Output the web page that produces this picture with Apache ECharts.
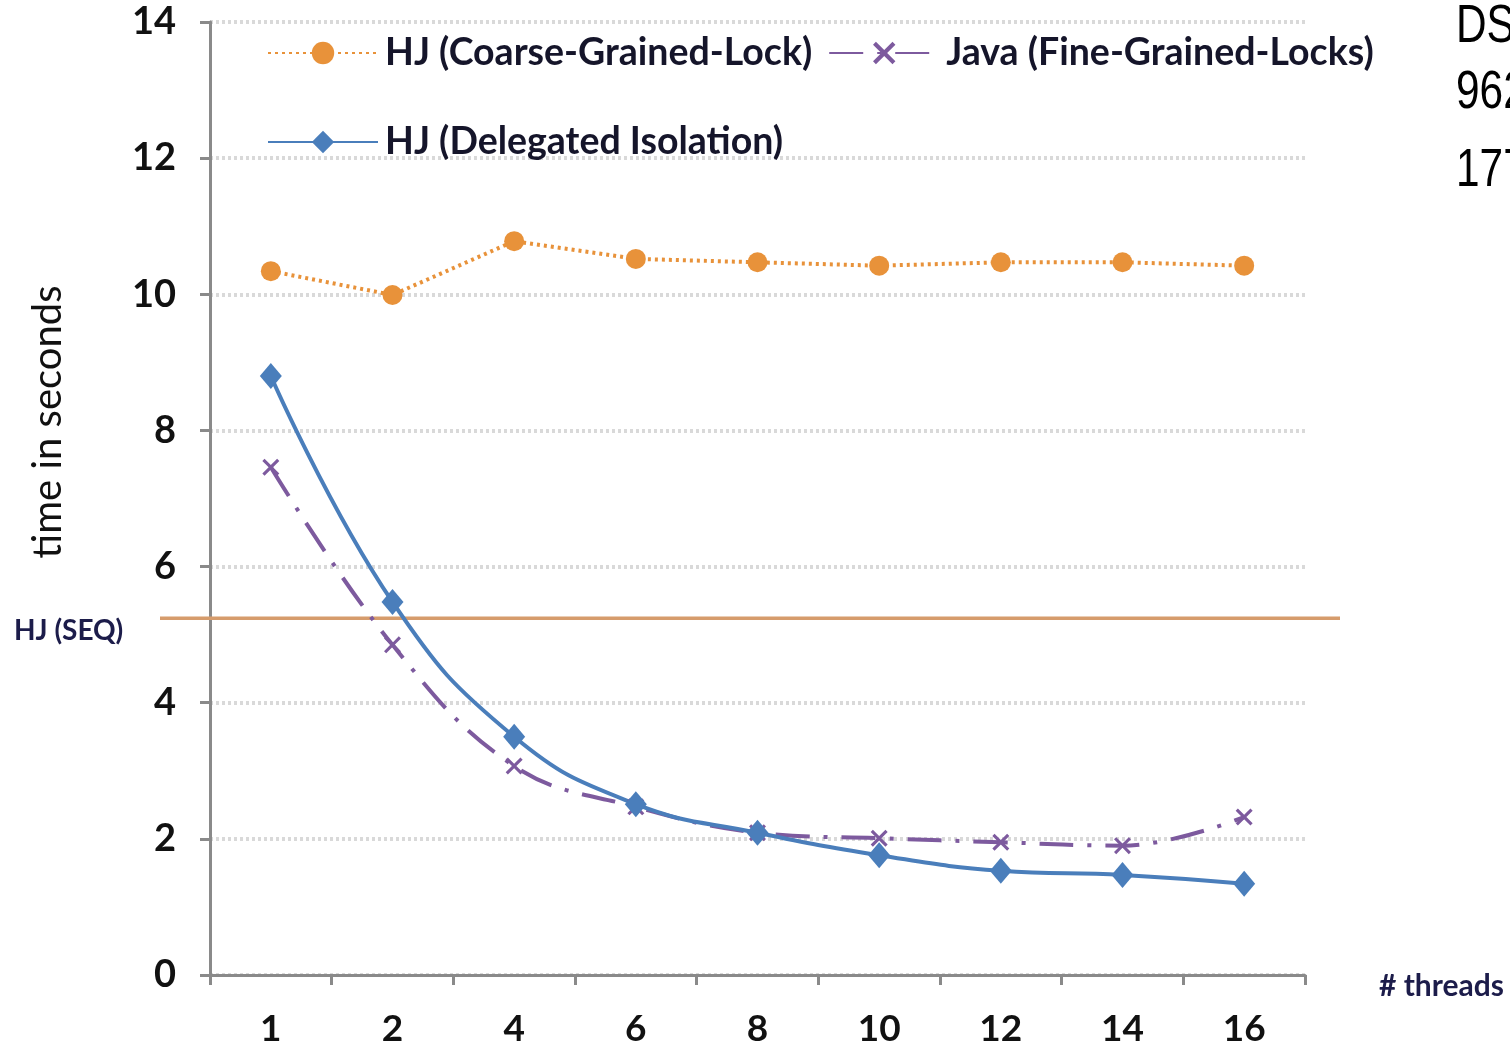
<!DOCTYPE html>
<html><head><meta charset="utf-8">
<script src="https://cdn.jsdelivr.net/npm/echarts@6/dist/echarts.min.js"></script>
<style>html,body{margin:0;padding:0;background:#fff}#c{width:1510px;height:1047px}</style>
</head><body><div id="c"></div>
<script>
const threads = ['1','2','4','6','8','10','12','14','16'];
const coarseLock = [10.34, 9.99, 10.78, 10.52, 10.47, 10.42, 10.47, 10.47, 10.42];
const javaFine = [7.46, 4.85, 3.07, 2.47, 2.09, 2.01, 1.95, 1.90, 2.32];
const delegated = [8.80, 5.48, 3.50, 2.51, 2.09, 1.76, 1.53, 1.47, 1.34];
const seqTime = 5.24;
const sideTexts = ['DS', '962', '177'];

const font = 'Lato';
const xMark = 'path://M0,1.3 L1.3,0 L5,3.7 L8.7,0 L10,1.3 L6.3,5 L10,8.7 L8.7,10 L5,6.3 L1.3,10 L0,8.7 L3.7,5 Z';

const chart = echarts.init(document.getElementById('c'));
chart.setOption({
  animation: false,
  backgroundColor: '#fff',
  grid: [
    {left: 210, right: 205, top: 22, bottom: 72, outerBoundsMode: 'none'},
    {left: 160, right: 170, top: 22, bottom: 72, outerBoundsMode: 'none'}
  ],
  xAxis: [
    {type: 'category', gridIndex: 0, data: threads, boundaryGap: true,
     axisLine: {lineStyle: {color: '#8a8a8a', width: 3}},
     axisTick: {show: true, length: 10, lineStyle: {color: '#8a8a8a', width: 3}},
     axisLabel: {color: '#111', fontFamily: font, fontSize: 37, fontWeight: 'bold', margin: 36},
     splitLine: {show: false}},
    {type: 'value', gridIndex: 1, min: 0, max: 1, show: false}
  ],
  yAxis: [
    {type: 'value', gridIndex: 0, min: 0, max: 14, interval: 2,
     axisLine: {show: true, lineStyle: {color: '#8a8a8a', width: 3}},
     axisTick: {show: true, length: 10, lineStyle: {color: '#8a8a8a', width: 3}},
     axisLabel: {color: '#111', fontFamily: font, fontSize: 38, fontWeight: 'bold', margin: 34},
     splitLine: {show: true, lineStyle: {color: '#d9d9d9', type: [3, 3], width: 4}}},
    {type: 'value', gridIndex: 1, min: 0, max: 14, show: false}
  ],
  legend: [
    {left: 262, top: 29, itemWidth: 110, itemHeight: 28, itemGap: 16,
     data: ['HJ (Coarse-Grained-Lock)', 'Java (Fine-Grained-Locks)'],
     textStyle: {color: '#15152a', fontFamily: font, fontSize: 37.5, fontWeight: 'bold', padding: [0,0,0,2]}},
    {left: 262, top: 118, itemWidth: 110, itemHeight: 28,
     data: ['HJ (Delegated Isolation)'],
     textStyle: {color: '#15152a', fontFamily: font, fontSize: 37.5, fontWeight: 'bold', padding: [0,0,0,2]}}
  ],
  series: [
    {name: 'HJ (SEQ)', type: 'line', xAxisIndex: 1, yAxisIndex: 1,
     data: [[0, seqTime], [1, seqTime]], symbol: 'none',
     lineStyle: {color: '#d69c6c', width: 3.5}, silent: true},
    {name: 'HJ (Coarse-Grained-Lock)', type: 'line', data: coarseLock,
     symbol: 'circle', symbolSize: 20, color: '#e8923a',
     lineStyle: {color: '#e8923a', width: 4, type: [3, 4]}, itemStyle: {color: '#e8923a'}},
    {name: 'Java (Fine-Grained-Locks)', type: 'line', data: javaFine, smooth: 0.4,
     symbol: xMark, symbolSize: 17, color: '#7d5a9e',
     lineStyle: {color: '#7d5a9e', width: 4, type: [34, 14, 4, 14]}, itemStyle: {color: '#7d5a9e'}},
    {name: 'HJ (Delegated Isolation)', type: 'line', data: delegated, smooth: 0.45,
     symbol: 'diamond', symbolSize: [22, 26], color: '#4a7ebb',
     lineStyle: {color: '#4a7ebb', width: 4}, itemStyle: {color: '#4a7ebb'}}
  ],
  graphic: [
    {type: 'text', x: 48, y: 422, rotation: Math.PI / 2,
     style: {text: 'time in seconds', fill: '#111', font: '40px Lato', align: 'center', verticalAlign: 'middle'}},
    {type: 'text', x: 14, y: 631, style: {text: 'HJ (SEQ)', fill: '#1c1c4a', font: 'bold 28px Lato', verticalAlign: 'middle'}},
    {type: 'text', x: 1379, y: 986, style: {text: '# threads', fill: '#1c1c4a', font: 'bold 30px Lato', verticalAlign: 'middle'}},
    {type: 'text', x: 1456, y: 27, scaleX: 0.8, style: {text: sideTexts[0], fill: '#000', font: '53px "Liberation Sans"', verticalAlign: 'middle'}},
    {type: 'text', x: 1456, y: 93, scaleX: 0.8, style: {text: sideTexts[1], fill: '#000', font: '53px "Liberation Sans"', verticalAlign: 'middle'}},
    {type: 'text', x: 1456, y: 171, scaleX: 0.8, style: {text: sideTexts[2], fill: '#000', font: '53px "Liberation Sans"', verticalAlign: 'middle'}}
  ]
});
</script></body></html>
